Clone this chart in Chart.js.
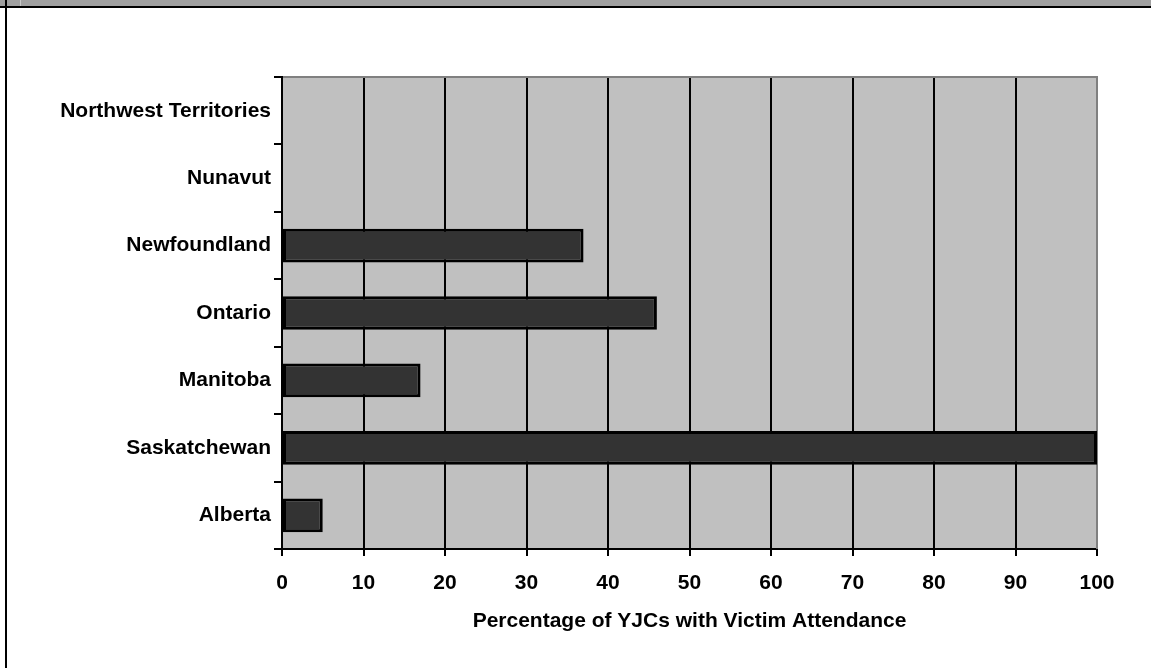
<!DOCTYPE html>
<html>
<head>
<meta charset="utf-8">
<script src="https://cdn.jsdelivr.net/npm/chart.js@4"></script>
<style>
  html, body { margin: 0; padding: 0; background: #fff; }
  #wrap { position: absolute; left: 0; top: 0; width: 1151px; height: 668px; overflow: hidden; background: #fff; }
  #strip { position: absolute; left: 0; top: 0; width: 1151px; height: 6px; background: #a0a0a0; }
  #stripline { position: absolute; left: 0; top: 6px; width: 1151px; height: 2px; background: #000; }
  #leftline { position: absolute; left: 5px; top: 0; width: 2px; height: 668px; background: #000; }
  #strip2 { position: absolute; left: 20px; top: 0; width: 1px; height: 6px; background: #c8c8c8; }
  #cv { position: absolute; left: 0; top: 0; }
</style>
</head>
<body>
<div id="wrap">
  <canvas id="cv" width="1151" height="668"></canvas>
  <div id="strip"></div>
  <div id="strip2"></div>
  <div id="stripline"></div>
  <div id="leftline"></div>
</div>
<script>
const categories = ['Northwest Territories', 'Nunavut', 'Newfoundland', 'Ontario', 'Manitoba', 'Saskatchewan', 'Alberta'];
const attendance = [null, null, 37, 46, 17, 100, 5];
const xTicks = [0, 10, 20, 30, 40, 50, 60, 70, 80, 90, 100];
const xTitle = 'Percentage of YJCs with Victim Attendance';

const FONT = "'Liberation Sans', Arial, sans-serif";

const plotBg = {
  id: 'plotBg',
  beforeDraw(chart) {
    const {ctx, chartArea: a} = chart;
    ctx.save();
    ctx.fillStyle = '#c0c0c0';
    ctx.fillRect(a.left, a.top, a.right - a.left, a.bottom - a.top);
    ctx.restore();
  },
  beforeDatasetsDraw(chart) {
    const {ctx, chartArea: a} = chart;
    ctx.save();
    ctx.strokeStyle = '#808080';
    ctx.lineWidth = 2;
    ctx.beginPath();
    ctx.moveTo(a.left + 1, a.top);
    ctx.lineTo(a.right, a.top);
    ctx.lineTo(a.right, a.bottom);
    ctx.stroke();
    ctx.restore();
  }
};

new Chart(document.getElementById('cv'), {
  type: 'bar',
  data: {
    labels: categories,
    datasets: [{
      data: attendance,
      backgroundColor: '#333333',
      borderColor: '#000000',
      borderWidth: 3,
      borderSkipped: false,
      categoryPercentage: 1.0,
      barPercentage: 0.5
    }]
  },
  options: {
    indexAxis: 'y',
    responsive: false,
    animation: false,
    devicePixelRatio: 1,
    layout: { padding: { left: 0, top: 77, right: 54, bottom: 0 } },
    plugins: { legend: { display: false }, tooltip: { enabled: false } },
    scales: {
      x: {
        type: 'linear',
        min: 0,
        max: 100,
        afterBuildTicks(scale) { scale.ticks = xTicks.map(v => ({ value: v })); },
        afterFit(scale) { scale.height = 119; },
        ticks: {
          color: '#000',
          font: { family: FONT, size: 21, weight: 'bold' },
          padding: 15,
          maxRotation: 0
        },
        grid: {
          color: (c) => (c.tick && c.tick.value === 100) ? '#808080' : '#000000',
          tickColor: '#000000',
          lineWidth: 2,
          tickLength: 7,
          drawTicks: true
        },
        border: { display: true, color: '#000', width: 2 },
        title: {
          display: true,
          text: xTitle,
          color: '#000',
          font: { family: FONT, size: 21, weight: 'bold' },
          padding: { top: 0, bottom: 34 }
        }
      },
      y: {
        afterFit(scale) { scale.width = 282; },
        ticks: {
          color: '#000',
          font: { family: FONT, size: 21, weight: 'bold' },
          padding: 3
        },
        grid: {
          offset: true,
          drawOnChartArea: false,
          drawTicks: true,
          tickLength: 8,
          tickColor: '#000',
          color: '#000',
          lineWidth: 2
        },
        border: { display: true, color: '#000', width: 2 }
      }
    }
  },
  plugins: [plotBg]
});
</script>
</body>
</html>
